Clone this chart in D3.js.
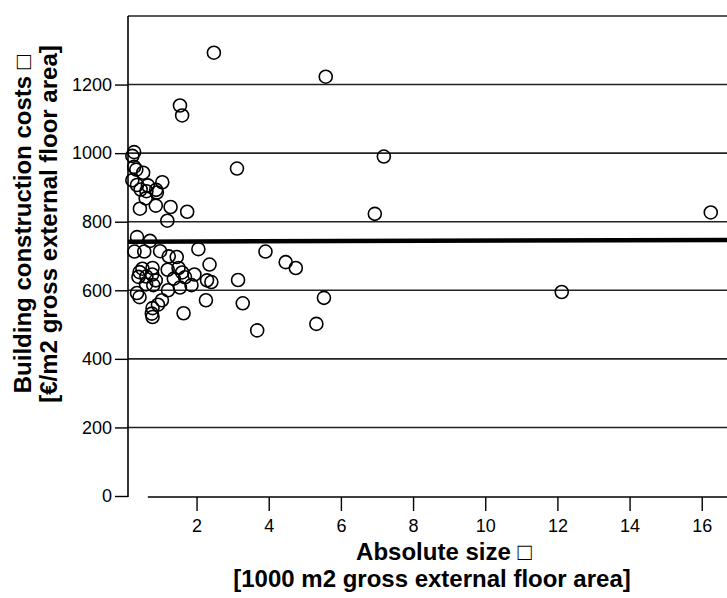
<!DOCTYPE html>
<html><head><meta charset="utf-8">
<script src="https://cdn.jsdelivr.net/npm/d3@7"></script>
<style>body{margin:0;background:#fff}svg{display:block}</style>
</head><body>
<svg id="chart" width="727" height="598"></svg>
<script>
// Absolute size [1000 m2 GEFA]
const sizeX = [
  0.27,0.22,0.27,0.33,0.52,0.22,0.35,0.45,0.65,0.61,0.90,0.88,1.05,0.59,0.43,0.87,1.28,1.74,1.19,
  1.54,1.60,2.48,5.58,3.12,7.19,6.94,16.25,
  0.35,0.71,0.28,0.55,0.99,1.23,1.45,2.05,3.91,4.47,4.75,2.36,0.42,0.50,0.78,1.20,1.50,1.60,1.94,
  0.39,0.61,0.77,0.87,1.37,1.68,2.29,2.41,3.15,0.60,0.80,1.86,1.54,1.21,0.35,0.42,1.04,2.26,
  0.93,0.78,0.76,0.78,1.64,3.28,3.68,5.53,5.32,12.12
];
// Building construction costs [EUR/m2 GEFA]
const costY = [
  1003,992,960,952,943,921,907,894,906,889,885,893,915,868,838,847,843,829,803,
  1139,1110,1293,1223,955,990,823,827,
  755,744,713,713,714,699,697,720,713,682,665,675,653,663,665,660,665,652,646,
  639,640,646,629,634,638,629,624,630,617,615,615,608,600,592,580,571,571,
  558,548,532,522,533,562,483,578,502,595
];
const yTicks = [0,200,400,600,800,1000,1200];
const gridValues = [200,400,600,800,1000,1200,1400];
const xTicks = [2,4,6,8,10,12,14,16];
const fitX = [0.1,16.7];
const fitY = [741.5,747];

const font = "'Liberation Sans', Arial, Helvetica, sans-serif";
const svg = d3.select("#chart");
const x = d3.scaleLinear().domain([0.1,16.7]).range([128,727]);
const y = d3.scaleLinear().domain([0,1400]).range([496,16]);

// grid lines
svg.append("g").selectAll("line").data(gridValues).join("line")
  .attr("x1",x(0.1)).attr("x2",727)
  .attr("y1",d=>y(d)).attr("y2",d=>y(d))
  .attr("stroke","#222").attr("stroke-width",1.6);

// y axis
const ya = svg.append("g").attr("transform",`translate(${x(0.1)},0)`)
  .call(d3.axisLeft(y).tickValues(yTicks).tickSize(13).tickPadding(3).tickFormat(d3.format("d")));
ya.select(".domain").remove();
ya.selectAll(".tick line").attr("stroke","#000").attr("stroke-width",1.4);
ya.selectAll("text").attr("font-family",font).attr("font-size",18).attr("fill","#000");
svg.append("line").attr("x1",x(0.1)).attr("x2",x(0.1)).attr("y1",y(1400)).attr("y2",y(0)+1)
  .attr("stroke","#000").attr("stroke-width",1.6);

// x axis
const xa = svg.append("g").attr("transform",`translate(0,${y(0)+1})`)
  .call(d3.axisBottom(x).tickValues(xTicks).tickSize(14).tickPadding(8).tickFormat(d3.format("d")));
xa.select(".domain").remove();
xa.selectAll(".tick line").attr("stroke","#000").attr("stroke-width",1.4);
xa.selectAll("text").attr("font-family",font).attr("font-size",18).attr("fill","#000");
svg.append("line").attr("x1",x(0.65)).attr("x2",727).attr("y1",y(0)+1).attr("y2",y(0)+1)
  .attr("stroke","#000").attr("stroke-width",1.6);

// regression line
svg.append("path").datum(d3.zip(fitX,fitY))
  .attr("d",d3.line().x(d=>x(d[0])).y(d=>y(d[1])))
  .attr("stroke","#000").attr("stroke-width",4.5).attr("fill","none");

// points
svg.append("g").selectAll("circle").data(d3.zip(sizeX,costY)).join("circle")
  .attr("cx",d=>x(d[0])).attr("cy",d=>y(d[1])).attr("r",6.5)
  .attr("fill","none").attr("stroke","#000").attr("stroke-width",1.6);

// axis titles
const yt = svg.append("g").attr("font-family",font).attr("font-weight","bold").attr("font-size",24).attr("fill","#000").attr("text-anchor","middle");
yt.append("text").attr("transform","translate(31,224) rotate(-90)").text("Building construction costs \u25A1");
yt.append("text").attr("transform","translate(57,224) rotate(-90)").text("[\u20AC/m2 gross external floor area]");

const xt = svg.append("g").attr("font-family",font).attr("font-weight","bold").attr("font-size",24).attr("fill","#000").attr("text-anchor","middle");
xt.append("text").attr("x",444).attr("y",560).text("Absolute size \u25A1");
xt.append("text").attr("x",432).attr("y",587).text("[1000 m2 gross external floor area]");
</script>
</body></html>
